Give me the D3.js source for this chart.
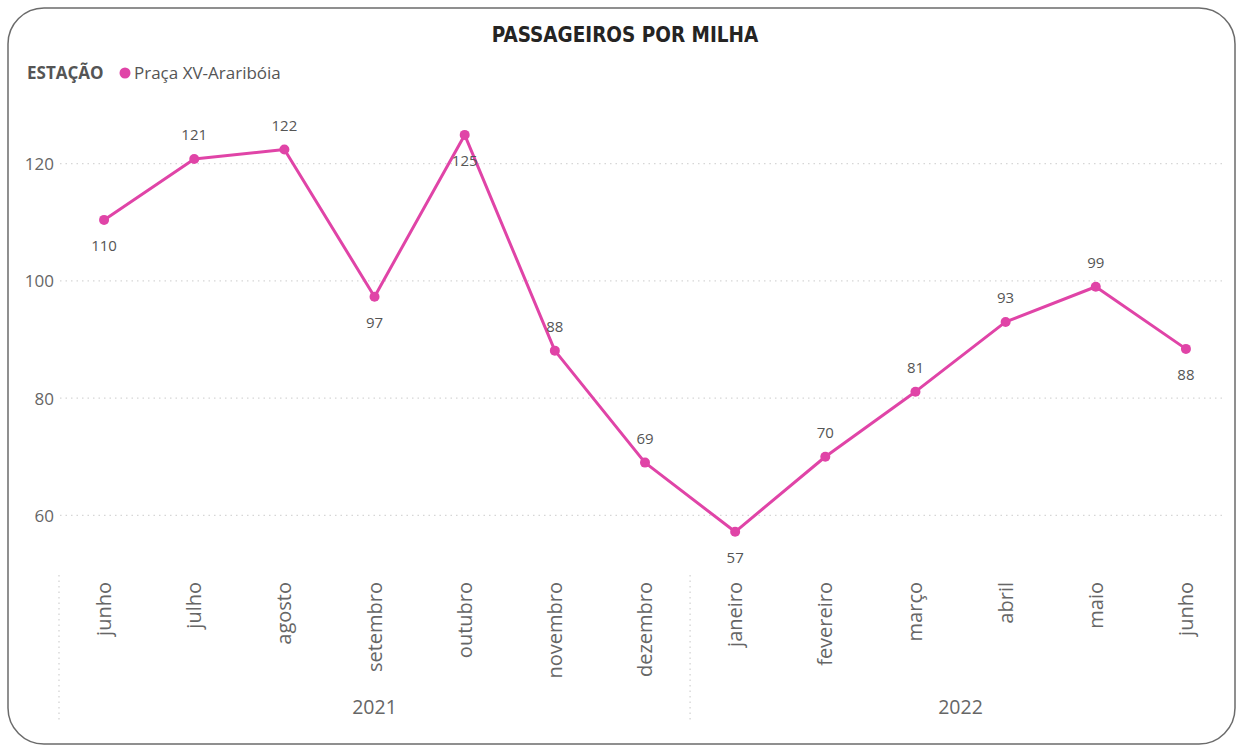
<!DOCTYPE html>
<html><head><meta charset="utf-8">
<script src="https://cdn.jsdelivr.net/npm/d3@7"></script>
<style>html,body{margin:0;padding:0;background:#fff;}svg{display:block;}</style>
</head><body>
<svg id="chart" width="1239" height="747"></svg>
<script>
const months = ["junho","julho","agosto","setembro","outubro","novembro","dezembro","janeiro","fevereiro","março","abril","maio","junho"];
const years = ["2021","2021","2021","2021","2021","2021","2021","2022","2022","2022","2022","2022","2022"];
const values = [110.4, 120.8, 122.4, 97.3, 124.9, 88.1, 69.0, 57.2, 70.0, 81.1, 93.0, 99.0, 88.4];
const labelPos = ["below","above","above","below","below","above","above","below","above","above","above","above","below"];
const yTicks = [60, 80, 100, 120];
const title = "PASSAGEIROS POR MILHA";
const legendTitle = "ESTAÇÃO";
const seriesName = "Praça XV-Araribóia";

const svg = d3.select("#chart");
const color = "#E044A7";
const font = "'Open Sans', 'Segoe UI', sans-serif";

svg.append("rect").attr("x", 8).attr("y", 8).attr("width", 1227).attr("height", 736)
  .attr("rx", 36).attr("ry", 36).attr("fill", "#fff").attr("stroke", "#6b6b6b").attr("stroke-width", 1.5);

svg.append("text").attr("x", 625).attr("y", 42).attr("text-anchor", "middle")
  .attr("font-family", "'DejaVu Sans Condensed', 'DejaVu Sans', sans-serif").attr("font-weight", "bold")
  .attr("font-size", 20.5).attr("fill", "#252423").text(title);

svg.append("text").attr("x", 27).attr("y", 79).attr("font-family", font).attr("font-weight", "bold")
  .attr("font-size", 17).attr("fill", "#555").text(legendTitle);
svg.append("circle").attr("cx", 125).attr("cy", 73).attr("r", 5.5).attr("fill", color);
svg.append("text").attr("x", 134).attr("y", 79).attr("font-family", font)
  .attr("font-size", 17).attr("fill", "#555").text(seriesName);

const idx = d3.range(months.length);
const x = d3.scaleBand().domain(idx).range([59, 1231]);
const y = d3.scaleLinear().domain([50, 130]).range([574, 105]);
const cx = i => x(i) + x.bandwidth() / 2;

// gridlines
svg.append("g").selectAll("line").data(yTicks).join("line")
  .attr("x1", 60).attr("x2", 1222).attr("y1", d => y(d)).attr("y2", d => y(d))
  .attr("stroke", "#d6d6d6").attr("stroke-width", 1.2).attr("stroke-dasharray", "1.5,4");

// y axis
const yAxis = svg.append("g").attr("transform", "translate(54,0)")
  .call(d3.axisLeft(y).tickValues(yTicks).tickSize(0).tickPadding(0));
yAxis.select(".domain").remove();
yAxis.selectAll("text").attr("font-family", font).attr("font-size", 17).attr("fill", "#666").attr("dy", "0.35em");

// x axis month labels
const xAxis = svg.append("g").attr("transform", "translate(0,582)")
  .call(d3.axisBottom(x).tickSize(0).tickFormat(i => months[i]));
xAxis.select(".domain").remove();
xAxis.selectAll("text").attr("font-family", font).attr("font-size", 20).attr("fill", "#666")
  .attr("text-anchor", "end").attr("transform", "rotate(-90)").attr("x", 0).attr("y", 0).attr("dx", 0).attr("dy", "0.35em");

// year groups
const yearGroups = d3.groups(idx, i => years[i]);
const sepColor = "#d0d0d0";
yearGroups.forEach(([yr, ids]) => {
  const x0 = x(ids[0]);
  svg.append("line").attr("x1", x0).attr("x2", x0).attr("y1", 575).attr("y2", 723)
    .attr("stroke", sepColor).attr("stroke-width", 1.2).attr("stroke-dasharray", "1.5,4");
  svg.append("text").attr("x", (cx(ids[0]) + cx(ids[ids.length - 1])) / 2).attr("y", 714)
    .attr("text-anchor", "middle").attr("font-family", font).attr("font-size", 19.5).attr("fill", "#666").text(yr);
});

// line
const line = d3.line().x(i => cx(i)).y(i => y(values[i]));
svg.append("path").datum(idx).attr("d", line).attr("fill", "none").attr("stroke", color)
  .attr("stroke-width", 3).attr("stroke-linejoin", "round");
svg.append("g").selectAll("circle").data(idx).join("circle")
  .attr("cx", cx).attr("cy", i => y(values[i])).attr("r", 5).attr("fill", color);

// data labels
svg.append("g").selectAll("text").data(idx).join("text")
  .attr("x", cx).attr("y", i => y(values[i]) + (labelPos[i] === "above" ? -19 : 31))
  .attr("text-anchor", "middle").attr("font-family", font).attr("font-size", 15).attr("fill", "#555")
  .text(i => Math.round(values[i]));
</script>
</body></html>
